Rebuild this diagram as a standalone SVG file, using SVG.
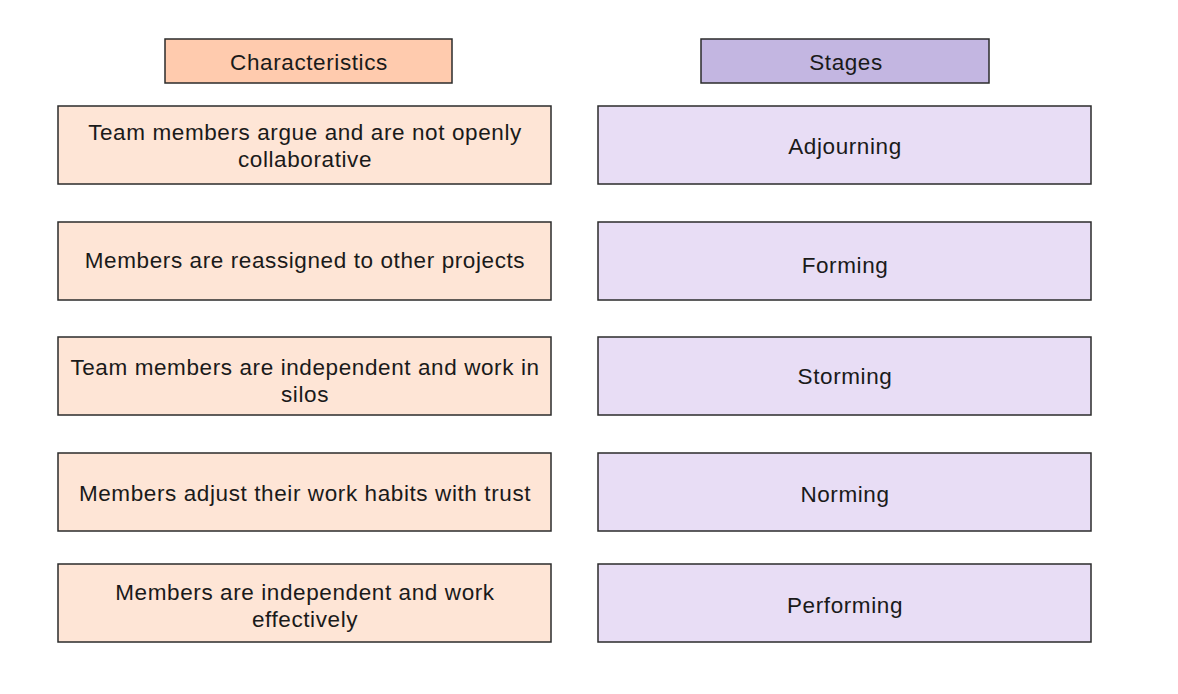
<svg xmlns="http://www.w3.org/2000/svg" width="1178" height="694" viewBox="0 0 1178 694">
<style>
rect{stroke:#2b2b2b;stroke-width:1.5}
.hl{fill:#ffcbae}.bl{fill:#fee5d6}.hr{fill:#c3b6e1}.br{fill:#e8ddf5}
text{font-family:"Liberation Sans",Arial,sans-serif;font-size:22.5px;letter-spacing:0.6px;fill:#1a1a1a;text-anchor:middle;dominant-baseline:central}
</style>
<rect width="1178" height="694" fill="#fff" style="stroke:none"/>
<g id="head-characteristics"><rect class="hl" x="165" y="39" width="287" height="44"/><text x="309" y="62">Characteristics</text></g>
<g id="head-stages"><rect class="hr" x="701" y="39" width="288" height="44"/><text x="846" y="62">Stages</text></g>
<g id="c1"><rect class="bl" x="58" y="106" width="493" height="78"/><text x="305" y="132">Team members argue and are not openly</text><text x="305" y="159">collaborative</text></g>
<g id="c2"><rect class="bl" x="58" y="222" width="493" height="78"/><text x="305" y="260">Members are reassigned to other projects</text></g>
<g id="c3"><rect class="bl" x="58" y="337" width="493" height="78"/><text x="305" y="367">Team members are independent and work in</text><text x="305" y="394">silos</text></g>
<g id="c4"><rect class="bl" x="58" y="453" width="493" height="78"/><text x="305" y="493">Members adjust their work habits with trust</text></g>
<g id="c5"><rect class="bl" x="58" y="564" width="493" height="78"/><text x="305" y="592">Members are independent and work</text><text x="305" y="619">effectively</text></g>
<g id="s1"><rect class="br" x="598" y="106" width="493" height="78"/><text x="845" y="146">Adjourning</text></g>
<g id="s2"><rect class="br" x="598" y="222" width="493" height="78"/><text x="845" y="265">Forming</text></g>
<g id="s3"><rect class="br" x="598" y="337" width="493" height="78"/><text x="845" y="376">Storming</text></g>
<g id="s4"><rect class="br" x="598" y="453" width="493" height="78"/><text x="845" y="494">Norming</text></g>
<g id="s5"><rect class="br" x="598" y="564" width="493" height="78"/><text x="845" y="605">Performing</text></g>
<g id="connectors"></g>
</svg>
